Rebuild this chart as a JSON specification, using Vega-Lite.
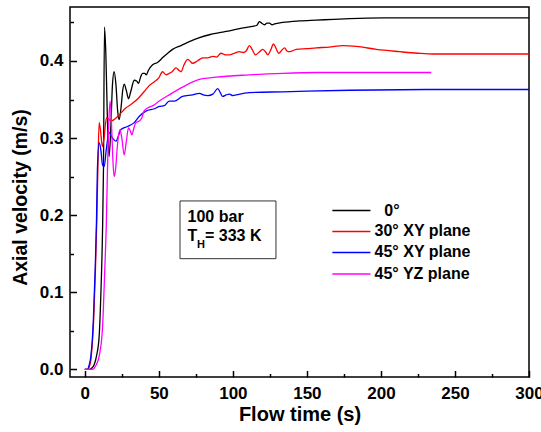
{
  "$schema": "https://vega.github.io/schema/vega-lite/v6.json",
  "width": 459,
  "height": 370,
  "autosize": {"type": "none"},
  "padding": {"left": 70, "top": 7, "right": 12, "bottom": 55},
  "background": "white",
  "config": {
    "view": {"stroke": "#000", "strokeWidth": 1.5},
    "font": "Liberation Sans",
    "axis": {
      "domain": false, "grid": false, "tickColor": "#000", "tickWidth": 1.5, "labelFlush": false,
      "labelFont": "Liberation Sans", "labelFontWeight": "bold", "labelFontSize": 17, "labelColor": "#000",
      "titleFont": "Liberation Sans", "titleFontWeight": "bold", "titleColor": "#000", "titleFontSize": 19
    }
  },
  "datasets": {
    "curves": [
      {"s":"0°","t":0,"v":0},{"s":"0°","t":3,"v":0},{"s":"0°","t":5,"v":0.002},{"s":"0°","t":6.3,"v":0.006},{"s":"0°","t":8,"v":0.018},{"s":"0°","t":9.7,"v":0.043},{"s":"0°","t":10.8,"v":0.095},{"s":"0°","t":11.9,"v":0.173},{"s":"0°","t":12.6,"v":0.259},{"s":"0°","t":13.3,"v":0.444},{"s":"0°","t":14.2,"v":0.41},{"s":"0°","t":15.2,"v":0.33},{"s":"0°","t":16.4,"v":0.276},{"s":"0°","t":17.5,"v":0.31},{"s":"0°","t":18.7,"v":0.37},{"s":"0°","t":19.8,"v":0.386},{"s":"0°","t":21,"v":0.37},{"s":"0°","t":22.2,"v":0.335},{"s":"0°","t":23.2,"v":0.324},{"s":"0°","t":24.5,"v":0.34},{"s":"0°","t":25.6,"v":0.362},{"s":"0°","t":26.6,"v":0.37},{"s":"0°","t":28,"v":0.362},{"s":"0°","t":29.5,"v":0.351},{"s":"0°","t":31,"v":0.36},{"s":"0°","t":33.4,"v":0.375},{"s":"0°","t":35,"v":0.374},{"s":"0°","t":36.3,"v":0.371},{"s":"0°","t":37.5,"v":0.378},{"s":"0°","t":39,"v":0.384},{"s":"0°","t":40.5,"v":0.384},{"s":"0°","t":41.5,"v":0.382},{"s":"0°","t":43,"v":0.388},{"s":"0°","t":45.8,"v":0.395},{"s":"0°","t":49.1,"v":0.398},{"s":"0°","t":53,"v":0.405},{"s":"0°","t":56,"v":0.41},{"s":"0°","t":59.3,"v":0.415},{"s":"0°","t":65,"v":0.42},{"s":"0°","t":70.6,"v":0.425},{"s":"0°","t":77,"v":0.43},{"s":"0°","t":84.1,"v":0.434},{"s":"0°","t":92,"v":0.437},{"s":"0°","t":99.9,"v":0.44},{"s":"0°","t":107,"v":0.443},{"s":"0°","t":113.4,"v":0.445},{"s":"0°","t":116,"v":0.446},{"s":"0°","t":118,"v":0.451},{"s":"0°","t":119.5,"v":0.449},{"s":"0°","t":121.3,"v":0.447},{"s":"0°","t":123,"v":0.449},{"s":"0°","t":124.7,"v":0.449},{"s":"0°","t":126.5,"v":0.447},{"s":"0°","t":128.1,"v":0.448},{"s":"0°","t":133.7,"v":0.45},{"s":"0°","t":145,"v":0.452},{"s":"0°","t":156.3,"v":0.453},{"s":"0°","t":168,"v":0.454},{"s":"0°","t":178.9,"v":0.455},{"s":"0°","t":201.4,"v":0.456},{"s":"0°","t":250,"v":0.456},{"s":"0°","t":300,"v":0.456},

      {"s":"30° XY plane","t":0,"v":0},{"s":"30° XY plane","t":2,"v":0},{"s":"30° XY plane","t":3.5,"v":0.006},{"s":"30° XY plane","t":4.5,"v":0.02},{"s":"30° XY plane","t":6,"v":0.065},{"s":"30° XY plane","t":7.2,"v":0.13},{"s":"30° XY plane","t":8.1,"v":0.194},{"s":"30° XY plane","t":8.8,"v":0.259},{"s":"30° XY plane","t":9.7,"v":0.32},{"s":"30° XY plane","t":10.6,"v":0.31},{"s":"30° XY plane","t":11.9,"v":0.289},{"s":"30° XY plane","t":13,"v":0.3},{"s":"30° XY plane","t":14.6,"v":0.326},{"s":"30° XY plane","t":16,"v":0.325},{"s":"30° XY plane","t":17.6,"v":0.322},{"s":"30° XY plane","t":19.8,"v":0.324},{"s":"30° XY plane","t":23.2,"v":0.33},{"s":"30° XY plane","t":27.7,"v":0.339},{"s":"30° XY plane","t":32.2,"v":0.345},{"s":"30° XY plane","t":36.3,"v":0.352},{"s":"30° XY plane","t":40,"v":0.36},{"s":"30° XY plane","t":43.5,"v":0.368},{"s":"30° XY plane","t":47,"v":0.373},{"s":"30° XY plane","t":50,"v":0.378},{"s":"30° XY plane","t":52.5,"v":0.386},{"s":"30° XY plane","t":55,"v":0.382},{"s":"30° XY plane","t":57.1,"v":0.384},{"s":"30° XY plane","t":59,"v":0.386},{"s":"30° XY plane","t":61.6,"v":0.391},{"s":"30° XY plane","t":63.5,"v":0.388},{"s":"30° XY plane","t":65,"v":0.386},{"s":"30° XY plane","t":67,"v":0.395},{"s":"30° XY plane","t":69.5,"v":0.402},{"s":"30° XY plane","t":71,"v":0.4},{"s":"30° XY plane","t":72.8,"v":0.397},{"s":"30° XY plane","t":76,"v":0.4},{"s":"30° XY plane","t":79.6,"v":0.404},{"s":"30° XY plane","t":83,"v":0.404},{"s":"30° XY plane","t":86.4,"v":0.406},{"s":"30° XY plane","t":89,"v":0.405},{"s":"30° XY plane","t":92,"v":0.41},{"s":"30° XY plane","t":95,"v":0.408},{"s":"30° XY plane","t":97.7,"v":0.408},{"s":"30° XY plane","t":101,"v":0.41},{"s":"30° XY plane","t":104.4,"v":0.412},{"s":"30° XY plane","t":107,"v":0.411},{"s":"30° XY plane","t":109,"v":0.413},{"s":"30° XY plane","t":111.2,"v":0.42},{"s":"30° XY plane","t":113,"v":0.415},{"s":"30° XY plane","t":115.3,"v":0.408},{"s":"30° XY plane","t":117.5,"v":0.411},{"s":"30° XY plane","t":120.2,"v":0.415},{"s":"30° XY plane","t":122,"v":0.412},{"s":"30° XY plane","t":123.6,"v":0.408},{"s":"30° XY plane","t":125.5,"v":0.414},{"s":"30° XY plane","t":127.4,"v":0.422},{"s":"30° XY plane","t":129,"v":0.417},{"s":"30° XY plane","t":131,"v":0.41},{"s":"30° XY plane","t":133,"v":0.414},{"s":"30° XY plane","t":134.9,"v":0.417},{"s":"30° XY plane","t":136.5,"v":0.413},{"s":"30° XY plane","t":138.3,"v":0.412},{"s":"30° XY plane","t":142.8,"v":0.415},{"s":"30° XY plane","t":150,"v":0.416},{"s":"30° XY plane","t":156.3,"v":0.417},{"s":"30° XY plane","t":165,"v":0.418},{"s":"30° XY plane","t":174.3,"v":0.42},{"s":"30° XY plane","t":183.4,"v":0.419},{"s":"30° XY plane","t":196.9,"v":0.415},{"s":"30° XY plane","t":212.7,"v":0.412},{"s":"30° XY plane","t":225,"v":0.41},{"s":"30° XY plane","t":235.3,"v":0.409},{"s":"30° XY plane","t":257.8,"v":0.409},{"s":"30° XY plane","t":300,"v":0.409},

      {"s":"45° XY plane","t":0,"v":0},{"s":"45° XY plane","t":1.8,"v":0},{"s":"45° XY plane","t":3,"v":0.006},{"s":"45° XY plane","t":4.1,"v":0.017},{"s":"45° XY plane","t":5.8,"v":0.065},{"s":"45° XY plane","t":7,"v":0.13},{"s":"45° XY plane","t":7.9,"v":0.194},{"s":"45° XY plane","t":8.5,"v":0.259},{"s":"45° XY plane","t":9.7,"v":0.294},{"s":"45° XY plane","t":10.8,"v":0.285},{"s":"45° XY plane","t":12,"v":0.265},{"s":"45° XY plane","t":13.1,"v":0.263},{"s":"45° XY plane","t":14.5,"v":0.285},{"s":"45° XY plane","t":16.4,"v":0.307},{"s":"45° XY plane","t":18.7,"v":0.3},{"s":"45° XY plane","t":21,"v":0.296},{"s":"45° XY plane","t":24.4,"v":0.311},{"s":"45° XY plane","t":28.8,"v":0.315},{"s":"45° XY plane","t":33.4,"v":0.32},{"s":"45° XY plane","t":36.7,"v":0.328},{"s":"45° XY plane","t":41.3,"v":0.335},{"s":"45° XY plane","t":46.9,"v":0.338},{"s":"45° XY plane","t":50.3,"v":0.341},{"s":"45° XY plane","t":53.7,"v":0.342},{"s":"45° XY plane","t":57,"v":0.348},{"s":"45° XY plane","t":60.4,"v":0.348},{"s":"45° XY plane","t":66,"v":0.354},{"s":"45° XY plane","t":72.8,"v":0.356},{"s":"45° XY plane","t":77.4,"v":0.358},{"s":"45° XY plane","t":80,"v":0.356},{"s":"45° XY plane","t":83,"v":0.355},{"s":"45° XY plane","t":86.5,"v":0.357},{"s":"45° XY plane","t":89.8,"v":0.364},{"s":"45° XY plane","t":91.5,"v":0.359},{"s":"45° XY plane","t":93.1,"v":0.354},{"s":"45° XY plane","t":95.5,"v":0.356},{"s":"45° XY plane","t":97.7,"v":0.357},{"s":"45° XY plane","t":100,"v":0.355},{"s":"45° XY plane","t":102.2,"v":0.356},{"s":"45° XY plane","t":111.2,"v":0.359},{"s":"45° XY plane","t":133.7,"v":0.36},{"s":"45° XY plane","t":178.9,"v":0.362},{"s":"45° XY plane","t":240,"v":0.363},{"s":"45° XY plane","t":300,"v":0.363},

      {"s":"45° YZ plane","t":0,"v":0},{"s":"45° YZ plane","t":5,"v":0},{"s":"45° YZ plane","t":7.5,"v":0.005},{"s":"45° YZ plane","t":9.7,"v":0.017},{"s":"45° YZ plane","t":11.9,"v":0.052},{"s":"45° YZ plane","t":13.5,"v":0.13},{"s":"45° YZ plane","t":14.6,"v":0.194},{"s":"45° YZ plane","t":15.3,"v":0.259},{"s":"45° YZ plane","t":16.2,"v":0.32},{"s":"45° YZ plane","t":17.1,"v":0.348},{"s":"45° YZ plane","t":18,"v":0.32},{"s":"45° YZ plane","t":19,"v":0.27},{"s":"45° YZ plane","t":19.8,"v":0.25},{"s":"45° YZ plane","t":20.8,"v":0.26},{"s":"45° YZ plane","t":22,"v":0.29},{"s":"45° YZ plane","t":23.7,"v":0.311},{"s":"45° YZ plane","t":25,"v":0.3},{"s":"45° YZ plane","t":26.6,"v":0.278},{"s":"45° YZ plane","t":28,"v":0.295},{"s":"45° YZ plane","t":29.5,"v":0.313},{"s":"45° YZ plane","t":31,"v":0.308},{"s":"45° YZ plane","t":31.8,"v":0.304},{"s":"45° YZ plane","t":33,"v":0.312},{"s":"45° YZ plane","t":34.5,"v":0.32},{"s":"45° YZ plane","t":36.7,"v":0.322},{"s":"45° YZ plane","t":38.5,"v":0.326},{"s":"45° YZ plane","t":40,"v":0.335},{"s":"45° YZ plane","t":42.4,"v":0.339},{"s":"45° YZ plane","t":46,"v":0.342},{"s":"45° YZ plane","t":50.3,"v":0.348},{"s":"45° YZ plane","t":57,"v":0.356},{"s":"45° YZ plane","t":66,"v":0.366},{"s":"45° YZ plane","t":77.3,"v":0.376},{"s":"45° YZ plane","t":88.6,"v":0.379},{"s":"45° YZ plane","t":111.2,"v":0.382},{"s":"45° YZ plane","t":133.7,"v":0.384},{"s":"45° YZ plane","t":156.3,"v":0.385},{"s":"45° YZ plane","t":234,"v":0.385}
    ],
    "note": [{"k": 1}]
  },
  "data": {"name": "curves"},
  "layer": [
    {
      "mark": {"type": "line", "strokeWidth": 1.3, "interpolate": "monotone"},
      "encoding": {
        "x": {"field": "t", "type": "quantitative",
          "scale": {"domain": [-10, 300], "nice": false, "zero": false},
          "axis": {"values": [0, 50, 100, 150, 200, 250, 300], "tickSize": -6.5, "labelPadding": 14.5, "title": "Flow time (s)", "titlePadding": 3, "titleFontSize": 20}},
        "y": {"field": "v", "type": "quantitative",
          "scale": {"domain": [-0.01, 0.47], "nice": false, "zero": false},
          "axis": {"values": [0, 0.1, 0.2, 0.3, 0.4], "format": ".1f", "tickSize": -6.5, "labelPadding": 13.5, "title": "Axial velocity (m/s)", "titleFontSize": 19.5, "titleX": -44, "titleY": 190, "titleBaseline": "alphabetic"}},
        "color": {"field": "s", "type": "nominal",
          "scale": {"domain": ["0°", "30° XY plane", "45° XY plane", "45° YZ plane"], "range": ["#000000", "#ff0000", "#0000ff", "#ff00ff"]},
          "legend": null}
      }
    },
    {
      "mark": {"type": "point", "opacity": 0},
      "encoding": {
        "x": {"field": "t", "type": "quantitative",
          "axis": {"values": [25, 75, 125, 175, 225, 275], "labels": false, "tickSize": -3.5, "title": null, "orient": "bottom"}},
        "y": {"field": "v", "type": "quantitative",
          "axis": {"values": [0.05, 0.15, 0.25, 0.35, 0.45], "labels": false, "tickSize": -3.5, "title": null, "orient": "left"}}
      }
    },
    {
      "data": {"name": "note"},
      "mark": {"type": "rect", "fill": "white", "stroke": "#333", "strokeWidth": 1},
      "encoding": {
        "x": {"datum": 64.3, "type": "quantitative", "axis": null},
        "x2": {"datum": 129.1},
        "y": {"datum": 0.2184, "type": "quantitative", "axis": null},
        "y2": {"datum": 0.1435}
      }
    },
    {
      "data": {"name": "note"},
      "mark": {"type": "text", "align": "left", "baseline": "alphabetic", "fontSize": 16, "fontWeight": "bold", "font": "Liberation Sans", "color": "#000"},
      "encoding": {
        "x": {"datum": 69.4, "type": "quantitative", "axis": null},
        "y": {"datum": 0.1913, "type": "quantitative", "axis": null},
        "text": {"value": "100 bar"}
      }
    },
    {
      "data": {"name": "note"},
      "mark": {"type": "text", "align": "left", "baseline": "alphabetic", "fontSize": 16, "fontWeight": "bold", "font": "Liberation Sans", "color": "#000"},
      "encoding": {
        "x": {"datum": 69.4, "type": "quantitative", "axis": null},
        "y": {"datum": 0.1662, "type": "quantitative", "axis": null},
        "text": {"value": "T"}
      }
    },
    {
      "data": {"name": "note"},
      "mark": {"type": "text", "align": "left", "baseline": "alphabetic", "fontSize": 11, "fontWeight": "bold", "font": "Liberation Sans", "color": "#000"},
      "encoding": {
        "x": {"datum": 75.8, "type": "quantitative", "axis": null},
        "y": {"datum": 0.1576, "type": "quantitative", "axis": null},
        "text": {"value": "H"}
      }
    },
    {
      "data": {"name": "note"},
      "mark": {"type": "text", "align": "left", "baseline": "alphabetic", "fontSize": 16, "fontWeight": "bold", "font": "Liberation Sans", "color": "#000"},
      "encoding": {
        "x": {"datum": 81.2, "type": "quantitative", "axis": null},
        "y": {"datum": 0.1662, "type": "quantitative", "axis": null},
        "text": {"value": "= 333 K"}
      }
    },
    {
      "data": {"name": "note"},
      "mark": {"type": "rule", "color": "#000000", "strokeWidth": 1.5},
      "encoding": {"x": {"datum": 167.2, "type": "quantitative", "axis": null}, "x2": {"datum": 192.9}, "y": {"datum": 0.206, "type": "quantitative", "axis": null}}
    },
    {
      "data": {"name": "note"},
      "mark": {"type": "rule", "color": "#ff0000", "strokeWidth": 1.5},
      "encoding": {"x": {"datum": 167.2, "type": "quantitative", "axis": null}, "x2": {"datum": 192.9}, "y": {"datum": 0.1788, "type": "quantitative", "axis": null}}
    },
    {
      "data": {"name": "note"},
      "mark": {"type": "rule", "color": "#0000ff", "strokeWidth": 1.5},
      "encoding": {"x": {"datum": 167.2, "type": "quantitative", "axis": null}, "x2": {"datum": 192.9}, "y": {"datum": 0.1516, "type": "quantitative", "axis": null}}
    },
    {
      "data": {"name": "note"},
      "mark": {"type": "rule", "color": "#ff00ff", "strokeWidth": 1.5},
      "encoding": {"x": {"datum": 167.2, "type": "quantitative", "axis": null}, "x2": {"datum": 192.9}, "y": {"datum": 0.1237, "type": "quantitative", "axis": null}}
    },
    {
      "data": {"name": "note"},
      "mark": {"type": "text", "align": "left", "baseline": "middle", "fontSize": 16, "fontWeight": "bold", "font": "Liberation Sans", "color": "#000"},
      "encoding": {"x": {"datum": 202.3, "type": "quantitative", "axis": null}, "y": {"datum": 0.206, "type": "quantitative", "axis": null}, "text": {"value": "0°"}}
    },
    {
      "data": {"name": "note"},
      "mark": {"type": "text", "align": "left", "baseline": "middle", "fontSize": 16, "fontWeight": "bold", "font": "Liberation Sans", "color": "#000"},
      "encoding": {"x": {"datum": 195.7, "type": "quantitative", "axis": null}, "y": {"datum": 0.1788, "type": "quantitative", "axis": null}, "text": {"value": "30° XY plane"}}
    },
    {
      "data": {"name": "note"},
      "mark": {"type": "text", "align": "left", "baseline": "middle", "fontSize": 16, "fontWeight": "bold", "font": "Liberation Sans", "color": "#000"},
      "encoding": {"x": {"datum": 195.7, "type": "quantitative", "axis": null}, "y": {"datum": 0.1516, "type": "quantitative", "axis": null}, "text": {"value": "45° XY plane"}}
    },
    {
      "data": {"name": "note"},
      "mark": {"type": "text", "align": "left", "baseline": "middle", "fontSize": 16, "fontWeight": "bold", "font": "Liberation Sans", "color": "#000"},
      "encoding": {"x": {"datum": 195.7, "type": "quantitative", "axis": null}, "y": {"datum": 0.1237, "type": "quantitative", "axis": null}, "text": {"value": "45° YZ plane"}}
    }
  ],
  "resolve": {"axis": {"x": "independent", "y": "independent"}}
}
